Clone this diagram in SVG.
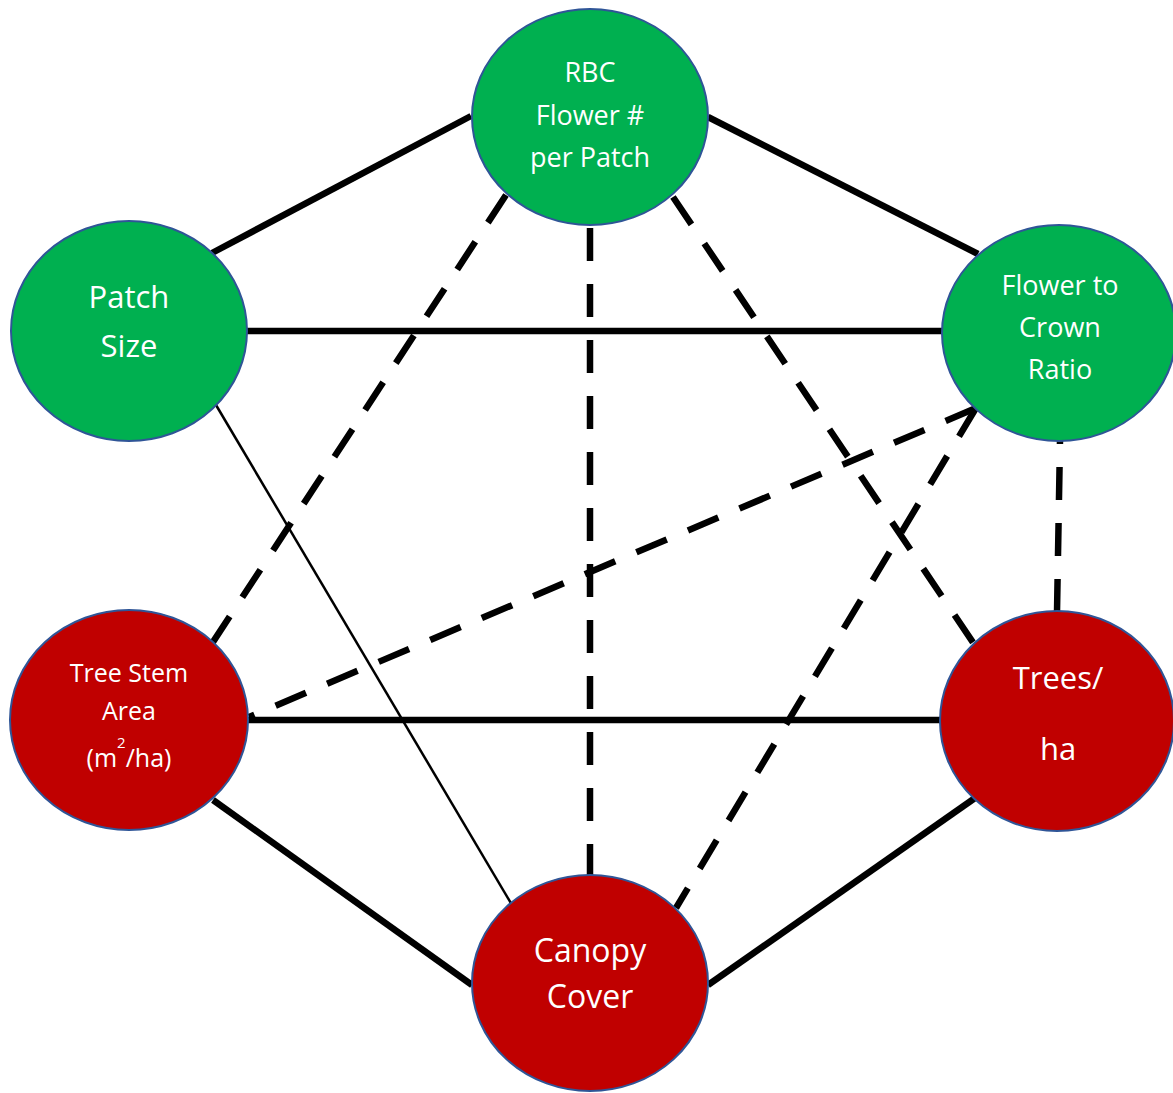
<svg xmlns="http://www.w3.org/2000/svg" width="1173" height="1093" viewBox="0 0 1173 1093">
<style>
.solid{stroke:#000;stroke-width:6.5;fill:none}
.thin{stroke:#000;stroke-width:2.5;fill:none}
.dash{stroke:#000;stroke-width:6.5;fill:none;stroke-dasharray:33 23}
.green{fill:#00B050;stroke:#2F5597;stroke-width:2}
.red{fill:#C00000;stroke:#2F5597;stroke-width:2}
text{fill:#fff;font-family:"Open Sans","Noto Sans",sans-serif;text-anchor:middle}
</style>
<rect width="1173" height="1093" fill="#fff"/>
<g id="connectors">
<line class="solid" x1="471" y1="116" x2="212" y2="253"/>
<line class="solid" x1="708" y1="117" x2="978" y2="254"/>
<line class="solid" x1="247" y1="331" x2="942" y2="331"/>
<line class="solid" x1="248" y1="720" x2="940" y2="720"/>
<line class="solid" x1="213" y1="800" x2="472" y2="985"/>
<line class="solid" x1="975" y1="798" x2="708" y2="985"/>
<line class="thin" x1="216" y1="405" x2="512" y2="905"/>
<line class="dash" x1="506" y1="195" x2="211" y2="645"/>
<line class="dash" x1="590" y1="228" x2="590" y2="875"/>
<line class="dash" x1="673" y1="197" x2="974" y2="644"/>
<line class="dash" x1="1057" y1="612" x2="1060" y2="441"/>
<line class="dash" x1="976" y1="408" x2="249" y2="717"/>
<line class="dash" x1="976" y1="408" x2="676" y2="908"/>
</g>
<g id="node-rbc">
<ellipse class="green" cx="590" cy="117" rx="118" ry="108"/>
<text x="590" y="82" font-size="27">RBC</text>
<text x="590" y="125" font-size="27">Flower #</text>
<text x="590" y="167" font-size="27">per Patch</text>
</g>
<g id="node-patch">
<ellipse class="green" cx="129" cy="331" rx="118" ry="110"/>
<text x="129" y="308" font-size="31">Patch</text>
<text x="129" y="357" font-size="31">Size</text>
</g>
<g id="node-flower">
<ellipse class="green" cx="1059" cy="333" rx="117" ry="108"/>
<text x="1060" y="295" font-size="27">Flower to</text>
<text x="1060" y="337" font-size="27">Crown</text>
<text x="1060" y="379" font-size="27">Ratio</text>
</g>
<g id="node-tsa">
<ellipse class="red" cx="129" cy="720" rx="119" ry="110"/>
<text x="129" y="682" font-size="25">Tree Stem</text>
<text x="129" y="720" font-size="25">Area</text>
<text x="129" y="767" font-size="25">(m<tspan font-size="15" dy="-19">2</tspan><tspan dy="19">/ha)</tspan></text>
</g>
<g id="node-trees">
<ellipse class="red" cx="1057" cy="721" rx="117" ry="110"/>
<text x="1058" y="689" font-size="31">Trees/</text>
<text x="1058" y="760" font-size="31">ha</text>
</g>
<g id="node-canopy">
<ellipse class="red" cx="590" cy="983" rx="118" ry="108"/>
<text x="590" y="962" font-size="32">Canopy</text>
<text x="590" y="1008" font-size="32">Cover</text>
</g>
</svg>
